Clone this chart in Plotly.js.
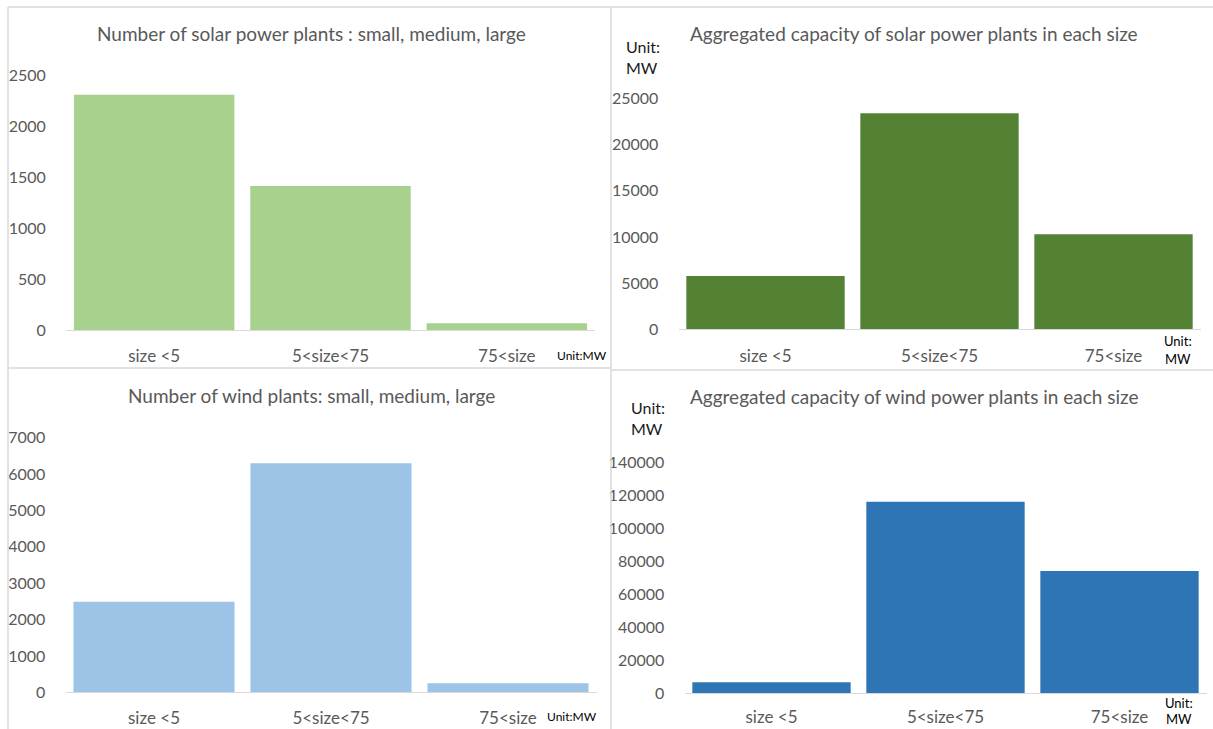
<!DOCTYPE html>
<html>
<head>
<meta charset="utf-8">
<script src="https://cdn.plot.ly/plotly-3.0.1.min.js"></script>
<style>html,body{margin:0;padding:0;background:#fff;}#chart{width:1213px;height:729px;}</style>
</head>
<body>
<div id="chart"></div>
<script>
// ---- data ----
const categories = ["size <5", "5<size<75", "75<size"];
const solarCount = [2311, 1415, 66];
const solarCapacity = [5770, 23377, 10281];
const windCount = [2491, 6296, 247];
const windCapacity = [6667, 116121, 74121];

const titles = [
  "Number of solar power plants : small, medium, large",
  "Aggregated capacity of solar power plants in each size",
  "Number of wind plants: small, medium, large",
  "Aggregated capacity of wind power plants in each size"
];

// ---- layout helpers ----
const W = 1213, H = 729;
const px = v => v / W;
const py = v => 1 - v / H;
const FONT = "Lato, 'Liberation Sans', sans-serif";
const GREY = "#595959";

function xAxis(left, right, anchor, tlen) {
  return {
    domain: [px(left), px(right)], anchor: anchor, type: "category",
    range: [-0.5, 2.5], showgrid: false, zeroline: false,
    showline: true, linecolor: "#d9d9d9", linewidth: 1,
    ticks: "outside", ticklen: tlen, tickcolor: "rgba(0,0,0,0)",
    tickfont: {family: FONT, size: 17, color: GREY}, fixedrange: true
  };
}
function yAxis(bottom, top, max, dtick, anchor) {
  return {
    domain: [py(bottom), py(top)], anchor: anchor,
    range: [0, max], dtick: dtick, tick0: 0, tickformat: "d",
    showgrid: false, zeroline: false,
    showline: false, ticks: "outside", ticklen: 16, tickcolor: "rgba(0,0,0,0)",
    tickfont: {family: FONT, size: 16, color: GREY}, fixedrange: true
  };
}

const traces = [
  {type: "bar", x: categories, y: solarCount, xaxis: "x", yaxis: "y", marker: {color: "#A9D18E"}},
  {type: "bar", x: categories, y: solarCapacity, xaxis: "x2", yaxis: "y2", marker: {color: "#548235"}},
  {type: "bar", x: categories, y: windCount, xaxis: "x3", yaxis: "y3", marker: {color: "#9DC3E6"}},
  {type: "bar", x: categories, y: windCapacity, xaxis: "x4", yaxis: "y4", marker: {color: "#2E75B6"}}
];
traces.forEach(t => { t.hoverinfo = "none"; t.showlegend = false; });

function ann(text, x, y, size, color, xanchor) {
  return {text: text, x: px(x), y: py(y), xref: "paper", yref: "paper",
    xanchor: xanchor || "center", yanchor: "middle", showarrow: false,
    font: {family: FONT, size: size, color: color}};
}

const borderColor = "#d9d9d9";
function line(x0, y0, x1, y1) {
  return {type: "line", xref: "paper", yref: "paper", x0: px(x0), y0: py(y0), x1: px(x1), y1: py(y1),
    line: {color: borderColor, width: 1.5}};
}

const layout = {
  width: W, height: H, margin: {l: 0, r: 0, t: 0, b: 0},
  paper_bgcolor: "#ffffff", plot_bgcolor: "rgba(0,0,0,0)",
  bargap: 0.09, showlegend: false,
  xaxis: xAxis(66, 595, "y", 11),
  yaxis: yAxis(330, 75.5, 2500, 500, "x"),
  xaxis2: xAxis(678.5, 1200.5, "y2", 11),
  yaxis2: yAxis(329.3, 98.3, 25000, 5000, "x2"),
  xaxis3: xAxis(65.5, 596.5, "y3", 10),
  yaxis3: yAxis(692.3, 437.7, 7000, 1000, "x3"),
  xaxis4: xAxis(684.5, 1206.5, "y4", 8),
  yaxis4: yAxis(693.3, 462.3, 140000, 20000, "x4"),
  annotations: [
    ann(titles[0], 311, 33, 19, GREY),
    ann(titles[1], 914, 33, 19, GREY),
    ann(titles[2], 311, 395, 19, GREY),
    ann(titles[3], 914, 396, 19, GREY),
    ann("Unit:", 624, 46, 16, "#1a1a1a", "left"),
    ann("MW", 624, 68, 16, "#1a1a1a", "left"),
    ann("Unit:", 629, 407, 16, "#1a1a1a", "left"),
    ann("MW", 629, 428, 16, "#1a1a1a", "left"),
    ann("Unit:MW", 555, 356, 12, "#000000", "left"),
    ann("Unit:MW", 545, 716, 12, "#000000", "left"),
    ann("Unit:", 1162, 341, 13, "#000000", "left"),
    ann("MW", 1163, 359, 13, "#000000", "left"),
    ann("Unit:", 1163, 703, 13, "#000000", "left"),
    ann("MW", 1164, 719, 13, "#000000", "left")
  ],
  shapes: [
    line(8, 7, 1213, 7),
    line(8, 7, 8, 729),
    line(611, 7, 611, 729),
    line(8, 368, 611, 368),
    line(611, 370, 1213, 370)
  ]
};

Plotly.newPlot("chart", traces, layout, {displayModeBar: false, staticPlot: true});
</script>
</body>
</html>
